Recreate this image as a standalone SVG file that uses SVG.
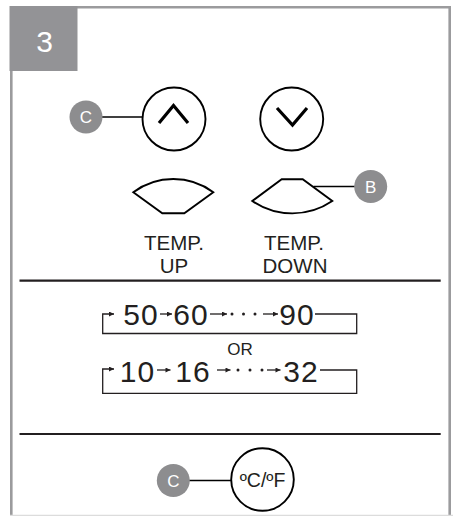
<svg xmlns="http://www.w3.org/2000/svg" width="453" height="516" viewBox="0 0 453 516">
<defs>
<style>
.frame{fill:none;stroke:#9b9b9d;stroke-width:2.6}
.rule{stroke:#231f20;stroke-width:2.2}
.ol{fill:none;stroke:#000;stroke-width:1.9}
.chev{fill:none;stroke:#000;stroke-width:3.2}
.badge{fill:#8d8d8f}
.btxt{font-family:"Liberation Sans",Arial,sans-serif;font-size:17px;fill:#fff;text-anchor:middle}
.lbl{font-family:"Liberation Sans",Arial,sans-serif;font-size:20.5px;fill:#231f20;text-anchor:middle}
.dig{font-family:"Liberation Sans",Arial,sans-serif;font-size:30px;fill:#231f20;text-anchor:middle;letter-spacing:1px}
.lead{stroke:#000;stroke-width:1.3;fill:none}
.conn{stroke:#231f20;stroke-width:1.3;fill:none}
</style>
<marker id="ah" viewBox="0 0 10 10" refX="10" refY="5" markerWidth="6" markerHeight="5" orient="auto" markerUnits="userSpaceOnUse">
<path d="M0,0 L10,5 L0,10 z" fill="#231f20"/>
</marker>
</defs>
<rect x="0" y="0" width="453" height="516" fill="#fff"/>
<g id="frame">
<path class="frame" d="M11.3,516 V7.3 H449.7 V516"/>
<line x1="10" y1="515.3" x2="453" y2="515.3" stroke="#dcdcdc" stroke-width="1.2"/>
<rect x="9.5" y="6" width="68" height="65" fill="#939396"/>
<text x="44.5" y="52" font-family="'Liberation Sans',Arial,sans-serif" font-size="30" fill="#fff" text-anchor="middle">3</text>
</g>
<g id="rules">
<line class="rule" x1="19.5" y1="280.7" x2="440.7" y2="280.7"/>
<line class="rule" x1="19.5" y1="434" x2="440.7" y2="434"/>
</g>
<g id="connectors">
<line class="lead" x1="102" y1="117" x2="142.5" y2="117"/>
<line class="lead" x1="313.5" y1="186.5" x2="355" y2="186.5"/>
<line class="lead" x1="189" y1="480.5" x2="231" y2="480.5"/>
<path class="conn" d="M315,314 H356.7 V333.5 H102.7 V314 H114" marker-end="url(#ah)"/>
<line class="conn" x1="160" y1="314" x2="172" y2="314" marker-end="url(#ah)"/>
<line class="conn" x1="210" y1="314" x2="227" y2="314" marker-end="url(#ah)"/>
<line class="conn" x1="263" y1="314" x2="278" y2="314" marker-end="url(#ah)"/>
<path class="conn" d="M320,370 H356.7 V393.3 H102.7 V369 H114" marker-end="url(#ah)"/>
<line class="conn" x1="157" y1="370" x2="170.5" y2="370" marker-end="url(#ah)"/>
<line class="conn" x1="217" y1="370" x2="230.5" y2="370" marker-end="url(#ah)"/>
<line class="conn" x1="267" y1="370" x2="280.5" y2="370" marker-end="url(#ah)"/>
</g>
<g id="badge-c-top">
<circle class="badge" cx="86" cy="117" r="16.5"/>
<text class="btxt" x="86" y="123">C</text>
</g>
<g id="btn-up">
<circle class="ol" cx="174" cy="119" r="31.5"/>
<polyline class="chev" points="159,123 173.5,105.5 188,123"/>
</g>
<g id="btn-down">
<circle class="ol" cx="291.7" cy="119" r="31.5"/>
<polyline class="chev" points="277,108 292.5,125 307,108"/>
</g>
<g id="fan-up">
<path class="ol" d="M133.3,192.3 A67,67 0 0 1 213.3,192.3 L184.3,213.3 L162.3,213.3 Z"/>
</g>
<g id="fan-down">
<path class="ol" d="M281.7,179.3 L302.7,179.3 L332.3,201 A71,71 0 0 1 252.3,201 Z"/>
</g>
<g id="badge-b">
<circle class="badge" cx="370.7" cy="186.5" r="16.5"/>
<text class="btxt" x="370.7" y="192.5">B</text>
</g>
<g id="label-up">
<text class="lbl" x="174" y="250">TEMP.</text>
<text class="lbl" x="174" y="273">UP</text>
</g>
<g id="label-down">
<text class="lbl" x="294" y="250">TEMP.</text>
<text class="lbl" x="295" y="273">DOWN</text>
</g>
<g id="seq-f">
<text class="dig" x="141" y="325">50</text>
<text class="dig" x="191" y="325">60</text>
<text class="dig" x="297" y="325">90</text>
<circle cx="232" cy="314" r="1.5" fill="#231f20"/>
<circle cx="243.5" cy="314" r="1.5" fill="#231f20"/>
<circle cx="255" cy="314" r="1.5" fill="#231f20"/>
</g>
<g id="or">
<text x="240" y="355" font-family="'Liberation Sans',Arial,sans-serif" font-size="17" fill="#231f20" text-anchor="middle">OR</text>
</g>
<g id="seq-c">
<text class="dig" x="137.5" y="381.5">10</text>
<text class="dig" x="193" y="381.5">16</text>
<text class="dig" x="301" y="381.5">32</text>
<circle cx="238" cy="370" r="1.5" fill="#231f20"/>
<circle cx="250" cy="370" r="1.5" fill="#231f20"/>
<circle cx="262" cy="370" r="1.5" fill="#231f20"/>
</g>
<g id="badge-c-bottom">
<circle class="badge" cx="173.3" cy="480.5" r="16.5"/>
<text class="btxt" x="173.3" y="486.5">C</text>
</g>
<g id="btn-cf">
<circle class="ol" cx="262.5" cy="479.5" r="31.3"/>
<text x="262.5" y="486.5" font-family="'Liberation Sans',Arial,sans-serif" font-size="19.5" fill="#231f20" text-anchor="middle">ºC/ºF</text>
</g>
</svg>
